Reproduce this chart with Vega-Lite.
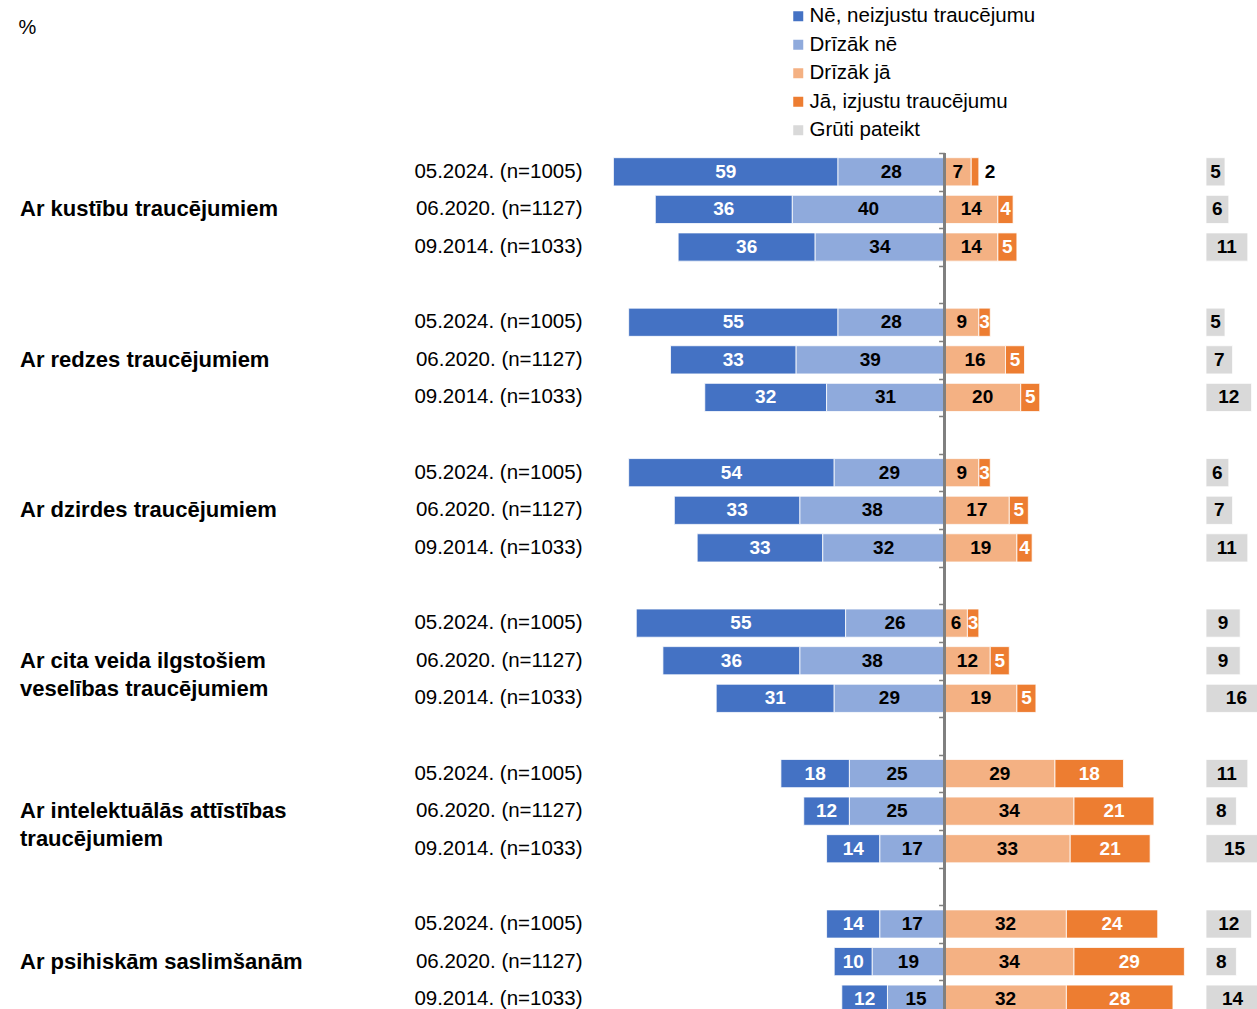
{
  "$schema": "https://vega.github.io/schema/vega-lite/v6.json",
  "padding": {"left": 18, "top": 6, "right": 0, "bottom": 0},
  "config": {"font": "Liberation Sans", "view": {"stroke": null}},
  "spacing": 13,
  "datasets": {
    "rows": [
      {"g":1,"date":"05.2024. (n=1005)","cat":"Nē, neizjustu traucējumu","pct":59},
      {"g":1,"date":"05.2024. (n=1005)","cat":"Drīzāk nē","pct":28},
      {"g":1,"date":"05.2024. (n=1005)","cat":"Drīzāk jā","pct":7},
      {"g":1,"date":"05.2024. (n=1005)","cat":"Jā, izjustu traucējumu","pct":2},
      {"g":1,"date":"05.2024. (n=1005)","cat":"Grūti pateikt","pct":5},
      {"g":1,"date":"06.2020. (n=1127)","cat":"Nē, neizjustu traucējumu","pct":36},
      {"g":1,"date":"06.2020. (n=1127)","cat":"Drīzāk nē","pct":40},
      {"g":1,"date":"06.2020. (n=1127)","cat":"Drīzāk jā","pct":14},
      {"g":1,"date":"06.2020. (n=1127)","cat":"Jā, izjustu traucējumu","pct":4},
      {"g":1,"date":"06.2020. (n=1127)","cat":"Grūti pateikt","pct":6},
      {"g":1,"date":"09.2014. (n=1033)","cat":"Nē, neizjustu traucējumu","pct":36},
      {"g":1,"date":"09.2014. (n=1033)","cat":"Drīzāk nē","pct":34},
      {"g":1,"date":"09.2014. (n=1033)","cat":"Drīzāk jā","pct":14},
      {"g":1,"date":"09.2014. (n=1033)","cat":"Jā, izjustu traucējumu","pct":5},
      {"g":1,"date":"09.2014. (n=1033)","cat":"Grūti pateikt","pct":11},
      {"g":2,"date":"05.2024. (n=1005)","cat":"Nē, neizjustu traucējumu","pct":55},
      {"g":2,"date":"05.2024. (n=1005)","cat":"Drīzāk nē","pct":28},
      {"g":2,"date":"05.2024. (n=1005)","cat":"Drīzāk jā","pct":9},
      {"g":2,"date":"05.2024. (n=1005)","cat":"Jā, izjustu traucējumu","pct":3},
      {"g":2,"date":"05.2024. (n=1005)","cat":"Grūti pateikt","pct":5},
      {"g":2,"date":"06.2020. (n=1127)","cat":"Nē, neizjustu traucējumu","pct":33},
      {"g":2,"date":"06.2020. (n=1127)","cat":"Drīzāk nē","pct":39},
      {"g":2,"date":"06.2020. (n=1127)","cat":"Drīzāk jā","pct":16},
      {"g":2,"date":"06.2020. (n=1127)","cat":"Jā, izjustu traucējumu","pct":5},
      {"g":2,"date":"06.2020. (n=1127)","cat":"Grūti pateikt","pct":7},
      {"g":2,"date":"09.2014. (n=1033)","cat":"Nē, neizjustu traucējumu","pct":32},
      {"g":2,"date":"09.2014. (n=1033)","cat":"Drīzāk nē","pct":31},
      {"g":2,"date":"09.2014. (n=1033)","cat":"Drīzāk jā","pct":20},
      {"g":2,"date":"09.2014. (n=1033)","cat":"Jā, izjustu traucējumu","pct":5},
      {"g":2,"date":"09.2014. (n=1033)","cat":"Grūti pateikt","pct":12},
      {"g":3,"date":"05.2024. (n=1005)","cat":"Nē, neizjustu traucējumu","pct":54},
      {"g":3,"date":"05.2024. (n=1005)","cat":"Drīzāk nē","pct":29},
      {"g":3,"date":"05.2024. (n=1005)","cat":"Drīzāk jā","pct":9},
      {"g":3,"date":"05.2024. (n=1005)","cat":"Jā, izjustu traucējumu","pct":3},
      {"g":3,"date":"05.2024. (n=1005)","cat":"Grūti pateikt","pct":6},
      {"g":3,"date":"06.2020. (n=1127)","cat":"Nē, neizjustu traucējumu","pct":33},
      {"g":3,"date":"06.2020. (n=1127)","cat":"Drīzāk nē","pct":38},
      {"g":3,"date":"06.2020. (n=1127)","cat":"Drīzāk jā","pct":17},
      {"g":3,"date":"06.2020. (n=1127)","cat":"Jā, izjustu traucējumu","pct":5},
      {"g":3,"date":"06.2020. (n=1127)","cat":"Grūti pateikt","pct":7},
      {"g":3,"date":"09.2014. (n=1033)","cat":"Nē, neizjustu traucējumu","pct":33},
      {"g":3,"date":"09.2014. (n=1033)","cat":"Drīzāk nē","pct":32},
      {"g":3,"date":"09.2014. (n=1033)","cat":"Drīzāk jā","pct":19},
      {"g":3,"date":"09.2014. (n=1033)","cat":"Jā, izjustu traucējumu","pct":4},
      {"g":3,"date":"09.2014. (n=1033)","cat":"Grūti pateikt","pct":11},
      {"g":4,"date":"05.2024. (n=1005)","cat":"Nē, neizjustu traucējumu","pct":55},
      {"g":4,"date":"05.2024. (n=1005)","cat":"Drīzāk nē","pct":26},
      {"g":4,"date":"05.2024. (n=1005)","cat":"Drīzāk jā","pct":6},
      {"g":4,"date":"05.2024. (n=1005)","cat":"Jā, izjustu traucējumu","pct":3},
      {"g":4,"date":"05.2024. (n=1005)","cat":"Grūti pateikt","pct":9},
      {"g":4,"date":"06.2020. (n=1127)","cat":"Nē, neizjustu traucējumu","pct":36},
      {"g":4,"date":"06.2020. (n=1127)","cat":"Drīzāk nē","pct":38},
      {"g":4,"date":"06.2020. (n=1127)","cat":"Drīzāk jā","pct":12},
      {"g":4,"date":"06.2020. (n=1127)","cat":"Jā, izjustu traucējumu","pct":5},
      {"g":4,"date":"06.2020. (n=1127)","cat":"Grūti pateikt","pct":9},
      {"g":4,"date":"09.2014. (n=1033)","cat":"Nē, neizjustu traucējumu","pct":31},
      {"g":4,"date":"09.2014. (n=1033)","cat":"Drīzāk nē","pct":29},
      {"g":4,"date":"09.2014. (n=1033)","cat":"Drīzāk jā","pct":19},
      {"g":4,"date":"09.2014. (n=1033)","cat":"Jā, izjustu traucējumu","pct":5},
      {"g":4,"date":"09.2014. (n=1033)","cat":"Grūti pateikt","pct":16},
      {"g":5,"date":"05.2024. (n=1005)","cat":"Nē, neizjustu traucējumu","pct":18},
      {"g":5,"date":"05.2024. (n=1005)","cat":"Drīzāk nē","pct":25},
      {"g":5,"date":"05.2024. (n=1005)","cat":"Drīzāk jā","pct":29},
      {"g":5,"date":"05.2024. (n=1005)","cat":"Jā, izjustu traucējumu","pct":18},
      {"g":5,"date":"05.2024. (n=1005)","cat":"Grūti pateikt","pct":11},
      {"g":5,"date":"06.2020. (n=1127)","cat":"Nē, neizjustu traucējumu","pct":12},
      {"g":5,"date":"06.2020. (n=1127)","cat":"Drīzāk nē","pct":25},
      {"g":5,"date":"06.2020. (n=1127)","cat":"Drīzāk jā","pct":34},
      {"g":5,"date":"06.2020. (n=1127)","cat":"Jā, izjustu traucējumu","pct":21},
      {"g":5,"date":"06.2020. (n=1127)","cat":"Grūti pateikt","pct":8},
      {"g":5,"date":"09.2014. (n=1033)","cat":"Nē, neizjustu traucējumu","pct":14},
      {"g":5,"date":"09.2014. (n=1033)","cat":"Drīzāk nē","pct":17},
      {"g":5,"date":"09.2014. (n=1033)","cat":"Drīzāk jā","pct":33},
      {"g":5,"date":"09.2014. (n=1033)","cat":"Jā, izjustu traucējumu","pct":21},
      {"g":5,"date":"09.2014. (n=1033)","cat":"Grūti pateikt","pct":15},
      {"g":6,"date":"05.2024. (n=1005)","cat":"Nē, neizjustu traucējumu","pct":14},
      {"g":6,"date":"05.2024. (n=1005)","cat":"Drīzāk nē","pct":17},
      {"g":6,"date":"05.2024. (n=1005)","cat":"Drīzāk jā","pct":32},
      {"g":6,"date":"05.2024. (n=1005)","cat":"Jā, izjustu traucējumu","pct":24},
      {"g":6,"date":"05.2024. (n=1005)","cat":"Grūti pateikt","pct":12},
      {"g":6,"date":"06.2020. (n=1127)","cat":"Nē, neizjustu traucējumu","pct":10},
      {"g":6,"date":"06.2020. (n=1127)","cat":"Drīzāk nē","pct":19},
      {"g":6,"date":"06.2020. (n=1127)","cat":"Drīzāk jā","pct":34},
      {"g":6,"date":"06.2020. (n=1127)","cat":"Jā, izjustu traucējumu","pct":29},
      {"g":6,"date":"06.2020. (n=1127)","cat":"Grūti pateikt","pct":8},
      {"g":6,"date":"09.2014. (n=1033)","cat":"Nē, neizjustu traucējumu","pct":12},
      {"g":6,"date":"09.2014. (n=1033)","cat":"Drīzāk nē","pct":15},
      {"g":6,"date":"09.2014. (n=1033)","cat":"Drīzāk jā","pct":32},
      {"g":6,"date":"09.2014. (n=1033)","cat":"Jā, izjustu traucējumu","pct":28},
      {"g":6,"date":"09.2014. (n=1033)","cat":"Grūti pateikt","pct":14}
    ],
    "groups": [
      {"g":1,"date":"06.2020. (n=1127)","label":"Ar kustību traucējumiem"},
      {"g":2,"date":"06.2020. (n=1127)","label":"Ar redzes traucējumiem"},
      {"g":3,"date":"06.2020. (n=1127)","label":"Ar dzirdes traucējumiem"},
      {"g":4,"date":"06.2020. (n=1127)","label":"Ar cita veida ilgstošiem\nveselības traucējumiem"},
      {"g":5,"date":"06.2020. (n=1127)","label":"Ar intelektuālās attīstības\ntraucējumiem"},
      {"g":6,"date":"06.2020. (n=1127)","label":"Ar psihiskām saslimšanām"}
    ]
  },
  "data": {"name": "rows"},
  "hconcat": [
    {
      "width": 379,
      "height": 865,
      "data": {"name": "groups"},
      "transform": [{"calculate": "datum.g + '|' + datum.date", "as": "key"}],
      "mark": {"type": "text", "align": "left", "baseline": "middle", "fontWeight": "bold", "fontSize": 22, "lineBreak": "\n", "lineHeight": 28, "color": "#000000"},
      "encoding": {
        "x": {"datum": 0, "type": "quantitative", "scale": {"domain": [0, 1]},
              "axis": {"orient": "top", "labels": false, "ticks": false, "domain": false, "grid": false, "title": "%", "titleFontSize": 20, "titleFontWeight": "normal", "titleAnchor": "start", "titleAlign": "left", "titleBaseline": "middle", "titleX": -2, "titleY": -126, "titleColor": "#000000"}},
        "y": {"field": "key", "type": "nominal", "sort": null,
              "scale": {"domain": ["1|05.2024. (n=1005)","1|06.2020. (n=1127)","1|09.2014. (n=1033)","1|","2|05.2024. (n=1005)","2|06.2020. (n=1127)","2|09.2014. (n=1033)","2|","3|05.2024. (n=1005)","3|06.2020. (n=1127)","3|09.2014. (n=1033)","3|","4|05.2024. (n=1005)","4|06.2020. (n=1127)","4|09.2014. (n=1033)","4|","5|05.2024. (n=1005)","5|06.2020. (n=1127)","5|09.2014. (n=1033)","5|","6|05.2024. (n=1005)","6|06.2020. (n=1127)","6|09.2014. (n=1033)"], "paddingInner": 0.25, "paddingOuter": 0.125},
              "axis": null},
        "text": {"field": "label"}
      }
    },
    {
      "width": 590,
      "height": 865,
      "transform": [
        {"filter": "datum.cat != 'Grūti pateikt'"},
        {"calculate": "datum.g + '|' + datum.date", "as": "key"},
        {"calculate": "(datum.cat == 'Nē, neizjustu traucējumu' || datum.cat == 'Drīzāk nē') ? -datum.pct : datum.pct", "as": "sv"},
        {"calculate": "indexof(['Drīzāk nē','Drīzāk jā','Nē, neizjustu traucējumu','Jā, izjustu traucējumu'], datum.cat)", "as": "ord"},
        {"stack": "sv", "groupby": ["key"], "sort": [{"field": "ord", "order": "ascending"}], "as": ["x0", "x1"]},
        {"calculate": "(datum.x0 + datum.x1) / 2", "as": "xm"}
      ],
      "layer": [
        {
          "mark": {"type": "bar", "stroke": "#ffffff", "strokeWidth": 0.8},
          "encoding": {
            "x": {"field": "x0", "type": "quantitative", "scale": {"domain": [-90, 65], "nice": false, "zero": false}, "axis": null},
            "x2": {"field": "x1"},
            "y": {"field": "key", "type": "nominal", "sort": null,
                  "scale": {"domain": ["1|05.2024. (n=1005)","1|06.2020. (n=1127)","1|09.2014. (n=1033)","1|","2|05.2024. (n=1005)","2|06.2020. (n=1127)","2|09.2014. (n=1033)","2|","3|05.2024. (n=1005)","3|06.2020. (n=1127)","3|09.2014. (n=1033)","3|","4|05.2024. (n=1005)","4|06.2020. (n=1127)","4|09.2014. (n=1033)","4|","5|05.2024. (n=1005)","5|06.2020. (n=1127)","5|09.2014. (n=1033)","5|","6|05.2024. (n=1005)","6|06.2020. (n=1127)","6|09.2014. (n=1033)"], "paddingInner": 0.25, "paddingOuter": 0.125},
                  "axis": {"orient": "left", "title": null, "labelExpr": "split(datum.value, '|')[1]", "labelFontSize": 20.5, "labelColor": "#000000", "labelPadding": 20, "labelLimit": 400, "ticks": false, "domain": false, "grid": false, "minExtent": 190, "maxExtent": 190}},
            "color": {"field": "cat", "type": "nominal",
                      "scale": {"domain": ["Nē, neizjustu traucējumu", "Drīzāk nē", "Drīzāk jā", "Jā, izjustu traucējumu", "Grūti pateikt"], "range": ["#4472C4", "#8FAADC", "#F4B183", "#ED7D31", "#D9D9D9"]},
                      "legend": {"title": null, "orient": "none", "legendX": 768, "legendY": -147, "direction": "vertical", "symbolType": "square", "symbolSize": 100, "symbolStrokeWidth": 0, "labelFontSize": 20.5, "labelColor": "#000000", "labelOffset": 1, "rowPadding": 7.5, "labelLimit": 400}}
          }
        },
        {
          "mark": {"type": "rule", "color": "#7f7f7f", "strokeWidth": 1.5},
          "encoding": {"x": {"datum": 0, "type": "quantitative", "axis": null}}
        },
        {
          "transform": [{"filter": "datum.pct >= 3"}],
          "mark": {"type": "text", "fontWeight": "bold", "fontSize": 19, "baseline": "middle", "align": "center"},
          "encoding": {
            "x": {"field": "xm", "type": "quantitative", "axis": null},
            "y": {"field": "key", "type": "nominal", "sort": null,
                  "axis": {"orient": "left", "offset": -342.6, "labels": false, "domain": false, "grid": false, "ticks": true, "tickOffset": -18.8, "tickSize": 6, "tickColor": "#7f7f7f", "tickWidth": 1.5, "title": null, "minExtent": 0, "maxExtent": 0, "zindex": 1}},
            "text": {"field": "pct"},
            "color": {"condition": {"test": "datum.cat == 'Nē, neizjustu traucējumu' || datum.cat == 'Jā, izjustu traucējumu'", "value": "#ffffff"}, "value": "#000000"}
          }
        },
        {
          "transform": [{"filter": "datum.pct < 3"}],
          "mark": {"type": "text", "fontWeight": "bold", "fontSize": 19, "baseline": "middle", "align": "left", "dx": 6, "color": "#000000"},
          "encoding": {
            "x": {"field": "x1", "type": "quantitative", "axis": null},
            "y": {"field": "key", "type": "nominal", "sort": null, "axis": null},
            "text": {"field": "pct"}
          }
        }
      ],
      "resolve": {"axis": {"y": "independent"}}
    },
    {
      "width": 76,
      "height": 865,
      "transform": [
        {"filter": "datum.cat == 'Grūti pateikt'"},
        {"calculate": "datum.g + '|' + datum.date", "as": "key"},
        {"calculate": "datum.pct / 2", "as": "xm"}
      ],
      "layer": [
        {
          "mark": {"type": "bar", "stroke": "#ffffff", "strokeWidth": 0.8},
          "encoding": {
            "x": {"field": "pct", "type": "quantitative", "scale": {"domain": [0, 20], "nice": false}, "axis": null},
            "y": {"field": "key", "type": "nominal", "sort": null,
                  "scale": {"domain": ["1|05.2024. (n=1005)","1|06.2020. (n=1127)","1|09.2014. (n=1033)","1|","2|05.2024. (n=1005)","2|06.2020. (n=1127)","2|09.2014. (n=1033)","2|","3|05.2024. (n=1005)","3|06.2020. (n=1127)","3|09.2014. (n=1033)","3|","4|05.2024. (n=1005)","4|06.2020. (n=1127)","4|09.2014. (n=1033)","4|","5|05.2024. (n=1005)","5|06.2020. (n=1127)","5|09.2014. (n=1033)","5|","6|05.2024. (n=1005)","6|06.2020. (n=1127)","6|09.2014. (n=1033)"], "paddingInner": 0.25, "paddingOuter": 0.125},
                  "axis": null},
            "color": {"field": "cat", "type": "nominal"}
          }
        },
        {
          "mark": {"type": "text", "fontWeight": "bold", "fontSize": 19, "baseline": "middle", "align": "center", "color": "#000000"},
          "encoding": {
            "x": {"field": "xm", "type": "quantitative", "axis": null},
            "y": {"field": "key", "type": "nominal", "sort": null, "axis": null},
            "text": {"field": "pct"}
          }
        }
      ]
    }
  ]
}
